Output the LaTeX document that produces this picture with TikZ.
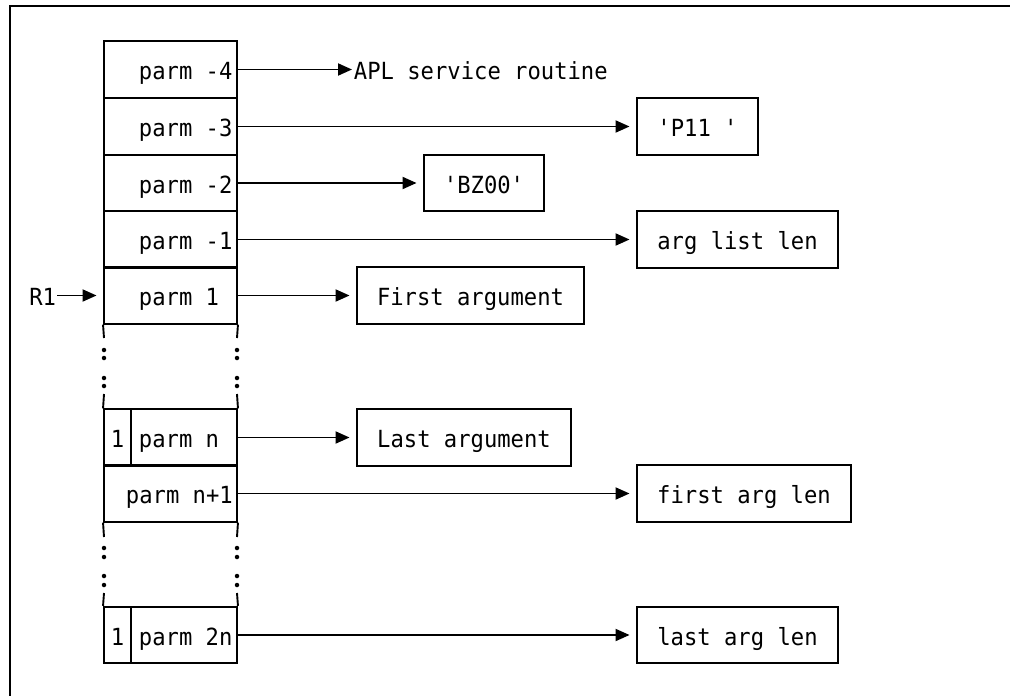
\documentclass[tikz,border=0pt]{standalone}
\usepackage{fontspec}
\newfontfamily\monofnt[FakeStretch=0.94]{DejaVu Sans Mono}
\usetikzlibrary{arrows.meta}
\begin{document}
\begin{tikzpicture}[x=1pt,y=-1pt,
  line width=1.9pt,
  txt/.style={inner sep=0pt,font=\monofnt\fontsize{23.6pt}{26pt}\selectfont,text height=20pt,text depth=0pt},
  cell/.style={draw,inner sep=0pt,minimum width=133pt,minimum height=56.5pt},
  flag/.style={draw,txt,minimum width=27pt,minimum height=56.5pt},
  tbox/.style={draw,txt,minimum height=56.5pt},
  arr/.style={-{Triangle[length=14pt,width=12pt]},shorten >=6.5pt},
  dot/.style={circle,fill,inner sep=0pt,minimum size=4.5pt}
]
\useasboundingbox (0,0) rectangle (1010,696);
% frame
\coordinate (ftl) at (10,6);
\coordinate (ftr) at (1012,6);
\coordinate (fbl) at (10,698);
\draw (ftr) -- (ftl) -- (fbl);

% stack cells
\node[cell] (c4) at (170.5,69.5) {};
\node[cell] (c3) at (170.5,126.5) {};
\node[cell] (c2) at (170.5,183) {};
\node[cell] (c1m) at (170.5,239.5) {};
\node[cell] (c1) at (170.5,295.5) {};
\node[cell] (cn) at (170.5,437.5) {};
\node[cell] (cn1) at (170.5,493.5) {};
\node[cell] (c2n) at (170.5,635) {};
\node[flag] (fn) at (117.5,437.5) {1};
\node[flag] (f2n) at (117.5,635) {1};

\node[txt,anchor=west] (t4) at (138,69.5) {parm -4};
\node[txt,anchor=west] (t3) at (138,126.5) {parm -3};
\node[txt,anchor=west] (t2) at (138,183) {parm -2};
\node[txt,anchor=west] (t1m) at (138,239.5) {parm -1};
\node[txt,anchor=west] (t1) at (138,295.5) {parm 1};
\node[txt,anchor=west] (tn) at (138,437.5) {parm n};
\node[txt,anchor=west] (tn1) at (125,493.5) {parm n+1};
\node[txt,anchor=west] (t2n) at (138,635) {parm 2n};

% continuation sides and dots
\coordinate (a1) at (104,338); \coordinate (a2) at (104,394);
\coordinate (b1) at (237,338); \coordinate (b2) at (237,394);
\coordinate (a3) at (104,537); \coordinate (a4) at (104,593);
\coordinate (b3) at (237,537); \coordinate (b4) at (237,593);
\draw (c1.south west) -- (a1);
\draw (c1.south east) -- (b1);
\draw (a2) -- (cn.north west);
\draw (b2) -- (cn.north east);
\draw (cn1.south west) -- (a3);
\draw (cn1.south east) -- (b3);
\draw (a4) -- (c2n.north west);
\draw (b4) -- (c2n.north east);
\foreach \y in {350,358,378,386,548,557,576,585}{
  \node[dot] at (104,\y) {};
  \node[dot] at (237,\y) {};
}

% R1
\node[txt,anchor=east] (r1) at (57,295.5) {R1};
\draw[arr] (r1.east) -- (c1.west);

% targets
\node[txt,anchor=west] (apl) at (353,69.5) {APL service routine};
\node[tbox,minimum width=121pt] (p11) at (697.5,126.5) {'P11 '};
\node[tbox,minimum width=120pt] (bz) at (484,183) {'BZ00'};
\node[tbox,minimum width=201pt] (alen) at (737.5,239.5) {arg list len};
\node[tbox,minimum width=227pt] (first) at (470.5,295.5) {First argument};
\node[tbox,minimum width=214pt] (last) at (464,437.5) {Last argument};
\node[tbox,minimum width=214pt] (flen) at (744,493.5) {first arg len};
\node[tbox,minimum width=201pt] (llen) at (737.5,635) {last arg len};

\draw[arr,shorten >=1pt] (c4.east) -- (apl.west);
\draw[arr] (c3.east) -- (p11.west);
\draw[arr] (c2.east) -- (bz.west);
\draw[arr] (c1m.east) -- (alen.west);
\draw[arr] (c1.east) -- (first.west);
\draw[arr] (cn.east) -- (last.west);
\draw[arr] (cn1.east) -- (flen.west);
\draw[arr] (c2n.east) -- (llen.west);
\end{tikzpicture}
\end{document}
